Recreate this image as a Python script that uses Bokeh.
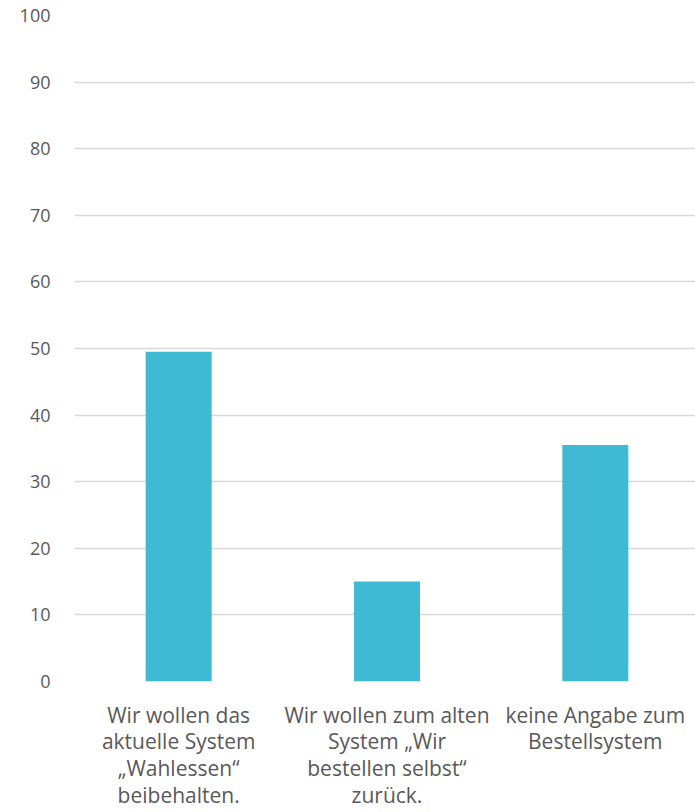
from bokeh.plotting import figure
from bokeh.models import Range1d, FixedTicker
from bokeh.embed import file_html
from bokeh.resources import INLINE

categories = [
    "Wir wollen das\naktuelle System\n\u201eWahlessen\u201c\nbeibehalten.",
    "Wir wollen zum alten\nSystem \u201eWir\nbestellen selbst\u201c\nzur\u00fcck.",
    "keine Angabe zum\nBestellsystem",
]
values = [49.5, 15.0, 35.5]
y_ticks = [0, 10, 20, 30, 40, 50, 60, 70, 80, 90, 100]

xs = list(range(len(categories)))

p = figure(
    frame_width=621, frame_height=666,
    x_range=Range1d(-0.5, 2.481), y_range=Range1d(0, 100),
    output_backend="svg", toolbar_location=None,
    min_border_left=74, min_border_right=0, min_border_top=15, min_border_bottom=131,
)
p.vbar(x=xs, top=values, width=0.317, color="#40BAD2", line_color=None)

p.outline_line_color = None
p.xgrid.grid_line_color = None
p.ygrid.grid_line_color = "#D9D9D9"
p.ygrid.grid_line_width = 1.3
p.ygrid.ticker = FixedTicker(ticks=y_ticks)

p.yaxis.ticker = FixedTicker(ticks=y_ticks)
p.yaxis.axis_line_color = None
p.yaxis.major_tick_line_color = None
p.yaxis.minor_tick_line_color = None
p.yaxis.major_label_standoff = 18
p.yaxis.major_label_text_font = "Open Sans"
p.yaxis.major_label_text_font_size = "18px"
p.yaxis.major_label_text_color = "#595959"

p.xaxis.ticker = FixedTicker(ticks=xs)
p.xaxis.major_label_overrides = {i: c for i, c in zip(xs, categories)}
p.xaxis.axis_line_color = None
p.xaxis.major_tick_line_color = None
p.xaxis.minor_tick_line_color = None
p.xaxis.major_label_standoff = 13
p.xaxis.major_label_text_font = "Open Sans"
p.xaxis.major_label_text_font_size = "21px"
p.xaxis.major_label_text_color = "#595959"
p.xaxis.major_label_text_line_height = 0.96

open("out.html", "w").write(file_html(p, INLINE))
